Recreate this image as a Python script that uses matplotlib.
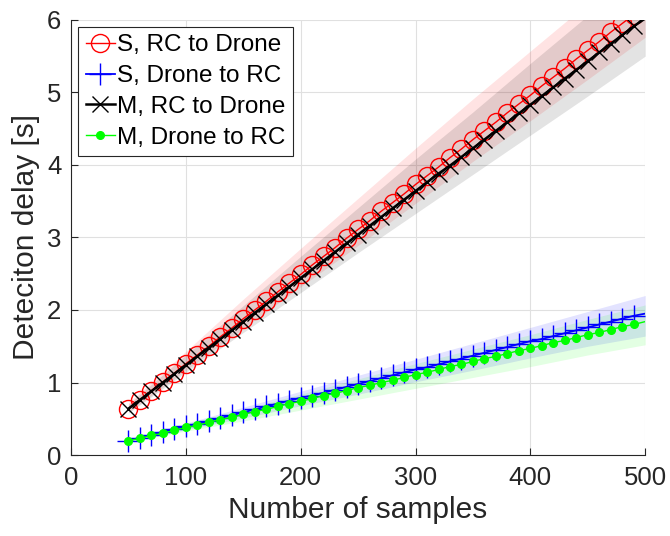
import matplotlib
matplotlib.use("Agg")
import matplotlib.pyplot as plt

plt.rcParams['font.family'] = ['Liberation Sans', 'DejaVu Sans']

# ---- data ----
samples = [50, 60, 70, 80, 90, 100, 110, 120, 130, 140, 150, 160, 170, 180, 190,
           200, 210, 220, 230, 240, 250, 260, 270, 280, 290, 300, 310, 320, 330,
           340, 350, 360, 370, 380, 390, 400, 410, 420, 430, 440, 450, 460, 470,
           480, 490, 500]

s_rc_to_drone = [0.64, 0.76, 0.89, 1.01, 1.13, 1.26, 1.38, 1.50, 1.63, 1.75, 1.88,
                 2.00, 2.12, 2.25, 2.37, 2.49, 2.62, 2.74, 2.86, 2.99, 3.11, 3.23,
                 3.36, 3.48, 3.60, 3.73, 3.85, 3.97, 4.10, 4.22, 4.35, 4.47, 4.59,
                 4.72, 4.84, 4.96, 5.09, 5.21, 5.33, 5.46, 5.58, 5.70, 5.83, 5.95,
                 6.07, 6.20]
s_drone_to_rc = [0.20, 0.24, 0.28, 0.32, 0.36, 0.40, 0.43, 0.47, 0.51, 0.55, 0.59,
                 0.63, 0.67, 0.71, 0.75, 0.79, 0.82, 0.86, 0.90, 0.94, 0.98, 1.02,
                 1.06, 1.10, 1.14, 1.18, 1.21, 1.25, 1.29, 1.33, 1.37, 1.41, 1.45,
                 1.49, 1.53, 1.57, 1.60, 1.64, 1.68, 1.72, 1.76, 1.80, 1.84, 1.88,
                 1.92, 1.95]
m_rc_to_drone = [0.64, 0.76, 0.88, 1.00, 1.12, 1.24, 1.36, 1.48, 1.60, 1.72, 1.84,
                 1.96, 2.08, 2.20, 2.32, 2.44, 2.56, 2.68, 2.80, 2.92, 3.04, 3.16,
                 3.28, 3.40, 3.52, 3.64, 3.76, 3.88, 3.99, 4.11, 4.23, 4.35, 4.47,
                 4.59, 4.71, 4.83, 4.95, 5.07, 5.19, 5.31, 5.43, 5.55, 5.67, 5.79,
                 5.91, 6.02]
m_drone_to_rc = [0.20, 0.23, 0.27, 0.30, 0.34, 0.38, 0.41, 0.45, 0.49, 0.52, 0.56,
                 0.60, 0.63, 0.67, 0.71, 0.74, 0.78, 0.82, 0.85, 0.89, 0.93, 0.96,
                 1.00, 1.03, 1.07, 1.11, 1.14, 1.18, 1.22, 1.25, 1.29, 1.33, 1.36,
                 1.40, 1.44, 1.47, 1.51, 1.55, 1.58, 1.62, 1.66, 1.69, 1.73, 1.77,
                 1.80, 1.84]

# spread bands (lower / upper) sampled every 50 samples
band_x = [50, 100, 150, 200, 250, 300, 350, 400, 450, 500]
s_rc_lo = [0.59, 1.17, 1.75, 2.32, 2.89, 3.47, 4.05, 4.61, 5.18, 5.76]
s_rc_hi = [0.72, 1.43, 2.15, 2.85, 3.54, 4.23, 4.91, 5.57, 6.23, 6.90]
m_rc_lo = [0.58, 1.14, 1.69, 2.24, 2.79, 3.33, 3.87, 4.41, 4.95, 5.50]
m_rc_hi = [0.70, 1.38, 2.06, 2.74, 3.41, 4.08, 4.73, 5.40, 6.06, 6.71]
s_dr_lo = [0.18, 0.35, 0.51, 0.68, 0.84, 1.01, 1.17, 1.34, 1.50, 1.64]
s_dr_hi = [0.22, 0.44, 0.66, 0.88, 1.10, 1.32, 1.54, 1.76, 1.98, 2.20]
m_dr_lo = [0.18, 0.33, 0.47, 0.62, 0.77, 0.92, 1.07, 1.22, 1.38, 1.52]
m_dr_hi = [0.22, 0.43, 0.63, 0.84, 1.05, 1.26, 1.46, 1.66, 1.87, 2.07]

labels = ['S, RC to Drone', 'S, Drone to RC', 'M, RC to Drone', 'M, Drone to RC']
x_ticks = [0, 100, 200, 300, 400, 500]
y_ticks = [0, 1, 2, 3, 4, 5, 6]

# ---- figure ----
fig = plt.figure(figsize=(6.7, 5.36), dpi=100)
ax = fig.add_axes([0.106, 0.151, 0.857, 0.812])

a = 0.11
ax.fill_between(band_x, s_rc_lo, s_rc_hi, color=(1, 0, 0), alpha=a, lw=0, zorder=1)
ax.fill_between(band_x, m_rc_lo, m_rc_hi, color=(0, 0, 0), alpha=a, lw=0, zorder=1)
ax.fill_between(band_x, s_dr_lo, s_dr_hi, color=(0, 0, 1), alpha=a, lw=0, zorder=1)
ax.fill_between(band_x, m_dr_lo, m_dr_hi, color=(0, 1, 0), alpha=a, lw=0, zorder=1)

mk = list(range(45))
ax.plot(samples, s_rc_to_drone, color='red', lw=1.0, marker='o', ms=13,
        mfc='none', mec='red', mew=1.0, markevery=mk, label=labels[0], zorder=3)
ax.plot(samples, s_drone_to_rc, color='blue', lw=1.3, marker='+', ms=16,
        mew=1.0, markevery=mk, label=labels[1], zorder=3)
ax.plot(samples, m_rc_to_drone, color='black', lw=1.8, marker='x', ms=12,
        mew=1.0, markevery=mk, label=labels[2], zorder=4)
ax.plot(samples, m_drone_to_rc, color=(0, 1, 0), lw=1.0, marker='o', ms=5.5,
        mfc=(0, 1, 0), mec=(0, 1, 0), markevery=mk, label=labels[3], zorder=4)

ax.set_xlim(0, 500)
ax.set_ylim(0, 6)
ax.set_xticks(x_ticks)
ax.set_yticks(y_ticks)
ax.tick_params(direction='in', length=5, width=0.8, labelsize=18.5, colors='0.15',
               labelcolor='0.15')
ax.tick_params(axis='x', pad=8)
ax.tick_params(axis='y', pad=7)
ax.grid(True, color='0.88', lw=0.8)
ax.set_axisbelow(True)
for s in ['top', 'right']:
    ax.spines[s].set_visible(False)
for s in ['left', 'bottom']:
    ax.spines[s].set_color('0.15')
    ax.spines[s].set_linewidth(0.8)

ax.set_xlabel('Number of samples', fontsize=21.5, color='0.15', labelpad=4)
ax.set_ylabel('Deteciton delay [s]', fontsize=21.5, color='0.15', labelpad=5)

leg = ax.legend(loc='upper left', fontsize=17.5, handlelength=1.2, handletextpad=0.1,
                labelspacing=0.36, borderpad=0.3, borderaxespad=0.3,
                fancybox=False, framealpha=1, edgecolor='0.15')
leg.get_frame().set_linewidth(0.8)

fig.savefig('out.png', dpi=100)
